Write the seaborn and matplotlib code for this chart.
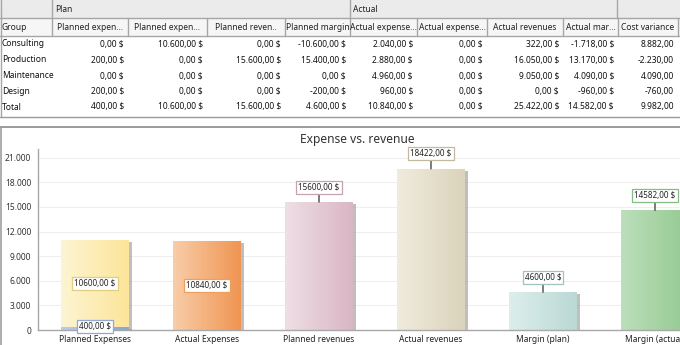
import numpy as np
import pandas as pd
import matplotlib
matplotlib.use("Agg")
import matplotlib.pyplot as plt
import seaborn as sns
from matplotlib.colors import LinearSegmentedColormap
from matplotlib.patches import Rectangle
import matplotlib.patheffects as pe

# ---------------- data ----------------
row_groups = ["Consulting", "Production", "Maintenance", "Design", "Total"]
col_headers = ["Planned expen...", "Planned expen...", "Planned reven..", "Planned margin",
               "Actual expense...", "Actual expense...", "Actual revenues", "Actual mar...",
               "Cost variance"]
planned_exp_1 = ["0,00 $", "200,00 $", "0,00 $", "200,00 $", "400,00 $"]
planned_exp_2 = ["10.600,00 $", "0,00 $", "0,00 $", "0,00 $", "10.600,00 $"]
planned_rev = ["0,00 $", "15.600,00 $", "0,00 $", "0,00 $", "15.600,00 $"]
planned_margin = ["-10.600,00 $", "15.400,00 $", "0,00 $", "-200,00 $", "4.600,00 $"]
actual_exp_1 = ["2.040,00 $", "2.880,00 $", "4.960,00 $", "960,00 $", "10.840,00 $"]
actual_exp_2 = ["0,00 $", "0,00 $", "0,00 $", "0,00 $", "0,00 $"]
actual_rev = ["322,00 $", "16.050,00 $", "9.050,00 $", "0,00 $", "25.422,00 $"]
actual_margin = ["-1.718,00 $", "13.170,00 $", "4.090,00 $", "-960,00 $", "14.582,00 $"]
cost_variance = ["8.882,00", "-2.230,00", "4.090,00", "-760,00", "9.982,00"]

categories = ["Planned Expenses", "Actual Expenses", "Planned revenues",
              "Actual revenues", "Margin (plan)", "Margin (actual)"]
base_values = [400, 0, 0, 0, 0, 0]
main_values = [10600, 10840, 15600, 19650, 4600, 14582]
label_values = ["10600,00 $", "10840,00 $", "15600,00 $", "18422,00 $", "4600,00 $", "14582,00 $"]
base_label = "400,00 $"
y_ticks = [0, 3000, 6000, 9000, 12000, 15000, 18000, 21000]
y_tick_labels = ["0", "3.000", "6.000", "9.000", "12.000", "15.000", "18.000", "21.000"]

# ---------------- style ----------------
sns.set_style("white")
plt.rcParams["font.family"] = ["Noto Sans", "DejaVu Sans"]

W, H = 680, 345
fig = plt.figure(figsize=(W / 100, H / 100), dpi=100)
fig.patch.set_facecolor("white")

# ---------------- table (pixel coordinates) ----------------
axt = fig.add_axes([0, 0, 1, 1])
axt.set_xlim(0, W)
axt.set_ylim(H, 0)
axt.axis("off")

line_c = "#A6A6A6"
axt.add_patch(Rectangle((0, 0), W, 18, facecolor="#EBEBEB", edgecolor="none"))
axt.add_patch(Rectangle((0, 18), W, 18, facecolor="#F6F6F6", edgecolor="none"))
axt.plot([0, W], [18, 18], color=line_c, lw=1)
axt.plot([0, W], [36, 36], color=line_c, lw=1)
for x in [52, 350, 617]:
    axt.plot([x, x], [0, 18], color=line_c, lw=1)
bounds = [52, 128, 207, 285, 350, 417, 487, 563, 618, 678]
for x in bounds:
    axt.plot([x, x], [18, 36], color=line_c, lw=1)
axt.plot([0.5, 0.5], [0, 117], color=line_c, lw=1)
tfs = 6.1
axt.text(55, 9.5, "Plan", fontsize=tfs, va="center", ha="left", color="#222222")
axt.text(353, 9.5, "Actual", fontsize=tfs, va="center", ha="left", color="#222222")
axt.text(2, 27.5, "Group", fontsize=tfs, va="center", ha="left", color="#222222")
for i, h in enumerate(col_headers):
    cx = (bounds[i] + bounds[i + 1]) / 2
    axt.text(cx, 27.5, h, fontsize=tfs, va="center", ha="center", color="#222222")

cols = [planned_exp_1, planned_exp_2, planned_rev, planned_margin, actual_exp_1,
        actual_exp_2, actual_rev, actual_margin, cost_variance]
row_y = [44, 60, 76, 91.5, 107]
for r, g in enumerate(row_groups):
    axt.text(2, row_y[r], g, fontsize=tfs, va="center", ha="left", color="#111111")
    for c, col in enumerate(cols):
        axt.text(bounds[c + 1] - 4, row_y[r], col[r], fontsize=tfs, va="center",
                 ha="right", color="#111111")
axt.plot([0, W], [116.5, 116.5], color="#9A9A9A", lw=1)
axt.plot([0, W], [127, 127], color="#8A8A8A", lw=1.2)
axt.plot([1, 1], [127, H], color="#A0A0A0", lw=1.2)

# ---------------- chart ----------------
ax_left, ax_right = 38, 720
ax_top, ax_bot = 149, 330
ax = fig.add_axes([ax_left / W, (H - ax_bot) / H, (ax_right - ax_left) / W, (ax_bot - ax_top) / H])
ax.patch.set_alpha(0)

df = pd.DataFrame({"category": categories,
                   "top": np.array(main_values) + np.array(base_values),
                   "base": base_values})

light = ["#FDF4D2", "#F8CDA8", "#EEDFE5", "#F0EBDD", "#DDEEEC", "#BCDFBB"]
dark = ["#FCE59A", "#F09552", "#DAB6C4", "#DBD3BA", "#BAD9D5", "#94CA92"]
edges = ["#E4CC80", "#EE9F5E", "#C7A2B2", "#C3B99C", "#9CC5C0", "#85BC83"]

sns.barplot(data=df, x="category", y="top", hue="category", palette=dark, legend=False,
            width=0.6, ax=ax, saturation=1, linewidth=0)
n_main = len(ax.patches)
sns.barplot(data=df, x="category", y="base", color="#86A6DC", width=0.6, ax=ax,
            saturation=1, linewidth=0)

ax.set_axisbelow(True)
xlim = (-57 / 112, -57 / 112 + (ax_right - ax_left) / 112)
ylim = (0, 21000 * (ax_bot - ax_top) / (ax_bot - ax_top - 172.2 + 172.2) * 181 / 172.2 / (181 / 181))
ylim = (0, 21000 * 181 / 172.2)

grad = np.linspace(0, 1, 64).reshape(1, -1)
patches = list(ax.patches)
for i, p in enumerate(patches):
    h = p.get_height()
    if h <= 0:
        continue
    x0, y0, w = p.get_x(), p.get_y(), p.get_width()
    if i < n_main:
        cmap = LinearSegmentedColormap.from_list("g", [light[i], dark[i]])
    else:
        cmap = LinearSegmentedColormap.from_list("g", ["#B8CDEE", "#86A6DC"])
    p.set_path_effects([pe.SimplePatchShadow(offset=(2.5, -1.5), shadow_rgbFace="#8C8C8C", alpha=0.55),
                        pe.Normal()])
    im = ax.imshow(grad, extent=(x0, x0 + w, y0, y0 + h), cmap=cmap, aspect="auto",
                   zorder=p.get_zorder() + 0.1, interpolation="bicubic")
    im.set_clip_path(p)

ax.set_xlim(*xlim)
ax.set_ylim(*ylim)
ax.set_yticks(y_ticks)
ax.set_yticklabels(y_tick_labels)
ax.grid(axis="y", color="#EFEFEF", lw=0.8)
ax.grid(axis="x", visible=False)
ax.set_xlabel("")
ax.set_ylabel("")
for s in ["top", "right"]:
    ax.spines[s].set_visible(False)
for s in ["left", "bottom"]:
    ax.spines[s].set_color("#A8A8A8")
    ax.spines[s].set_linewidth(1)
ax.tick_params(axis="y", length=3, width=0.8, color="#A8A8A8", pad=2, labelsize=6.1, labelcolor="#333333")
ax.tick_params(axis="x", length=0, pad=3.5, labelsize=6.1, labelcolor="#222222")

# value labels
inside = [True, True, False, False, False, False]
for i, cat in enumerate(categories):
    top = main_values[i] + base_values[i]
    bb = dict(boxstyle="square,pad=0.25", facecolor="white", edgecolor=edges[i], lw=0.9)
    if inside[i]:
        ax.text(i, base_values[i] + main_values[i] / 2, label_values[i], ha="center", va="center",
                fontsize=5.8, color="#222222", bbox=bb, zorder=5)
    else:
        ax.annotate(label_values[i], xy=(i, top), xytext=(0, 15), textcoords="offset pixels",
                    ha="center", va="center", fontsize=5.8, color="#222222", bbox=bb, zorder=5,
                    arrowprops=dict(arrowstyle="-", color="#333333", lw=0.9, shrinkA=0, shrinkB=0))
ax.text(0, base_values[0], base_label, ha="center", va="center", fontsize=5.8, color="#222222",
        bbox=dict(boxstyle="square,pad=0.25", facecolor="white", edgecolor="#8FA8D8", lw=0.9), zorder=6)

fig.text(357 / W, 1 - 140 / H, "Expense vs. revenue", ha="center", va="center", fontsize=8.6,
         color="#333333")

fig.savefig("out.png", dpi=100)
